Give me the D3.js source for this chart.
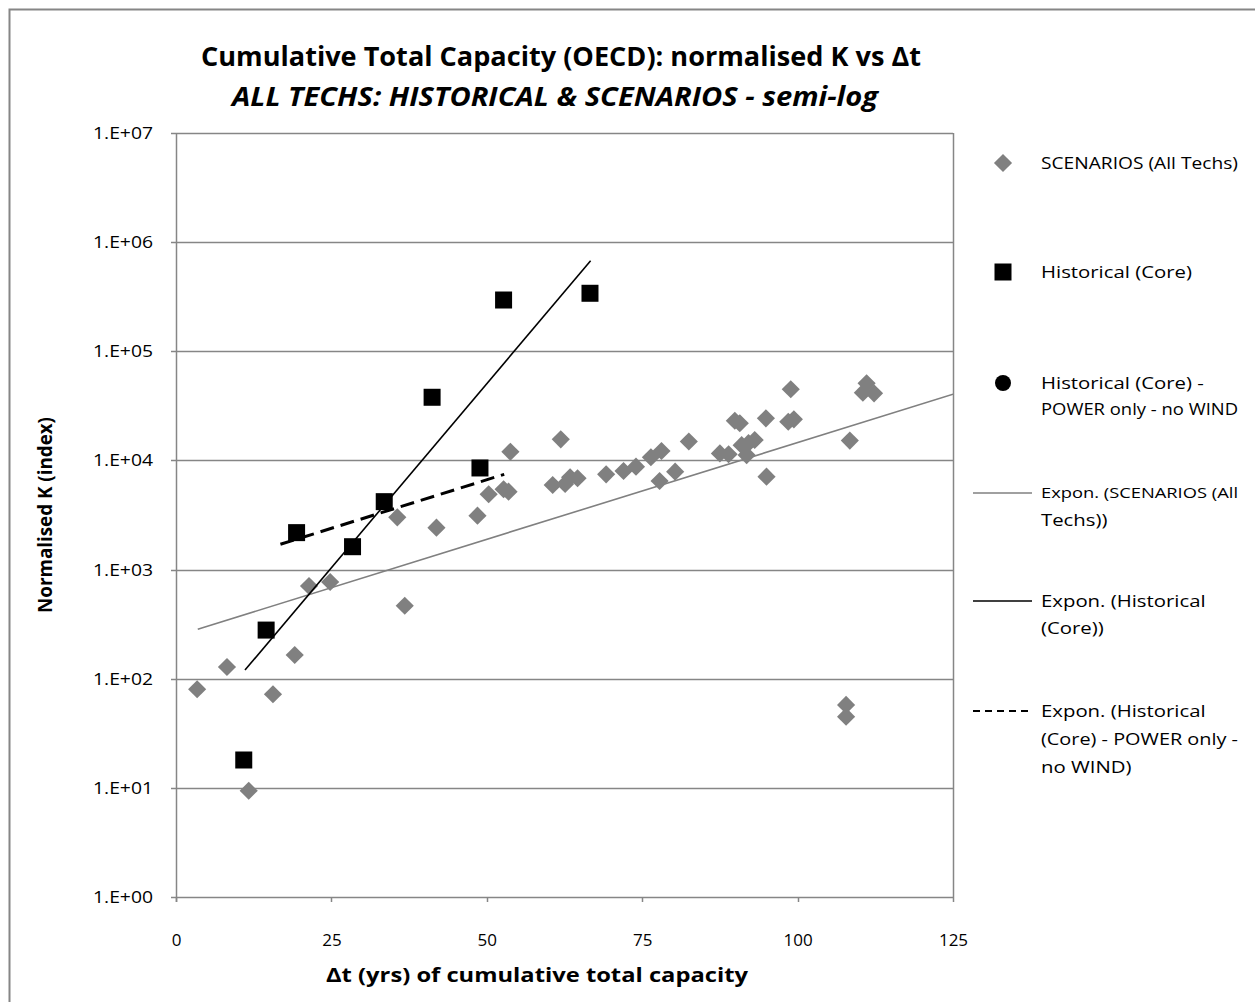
<!DOCTYPE html>
<html><head><meta charset="utf-8">
<script src="https://cdn.jsdelivr.net/npm/d3@7"></script>
<style>
html,body{margin:0;padding:0;background:#fff;}
svg{display:block;}
text{font-family:"Open Sans",Lato,sans-serif;}
</style></head>
<body>
<svg id="chart" width="1255" height="1002"></svg>
<script>
// ---------- data ----------
const scenX = [3.4, 8.2, 11.7, 15.6, 19.1, 21.4, 24.8, 35.6, 36.8, 41.9, 48.5, 50.3, 52.7, 53.5, 53.8, 60.6, 61.9, 62.6, 63.4, 64.6, 69.2, 72.0, 74.0, 76.4, 77.8, 78.1, 80.3, 82.5, 87.5, 88.9, 89.9, 90.7, 91.0, 91.8, 92.1, 93.1, 94.9, 95.0, 98.5, 99.4, 98.9, 107.8, 107.8, 108.4, 110.5, 111.1, 112.3];
const scenY = [80, 128, 9.4, 72, 165, 707, 770, 3010, 466, 2420, 3120, 4900, 5440, 5170, 12000, 5960, 15600, 6080, 7010, 6860, 7460, 8000, 8770, 10700, 6480, 12200, 7890, 14900, 11600, 11400, 23100, 21900, 13800, 11200, 14400, 15400, 24300, 7100, 22600, 23800, 44900, 57.5, 44.9, 15200, 41800, 50900, 41200];
const histX = [10.9, 14.5, 19.4, 28.4, 33.5, 41.2, 48.9, 52.7, 66.6];
const histY = [18, 279, 2180, 1620, 4190, 37900, 8530, 295000, 340000];
const powerX = [19.4, 33.5, 48.9];
const powerY = [2180, 4190, 8530];
// trend line end points [x0, y0, x1, y1]
const trendScen = [3.5, 284, 125, 40400];
const trendHist = [11.1, 120, 66.7, 676000];
const trendPower = [16.8, 1706, 52.8, 7460];
const yTicks = [1, 10, 100, 1000, 1e4, 1e5, 1e6, 1e7];
const xTicks = [0, 25, 50, 75, 100, 125];
const title1 = "Cumulative Total Capacity (OECD): normalised K  vs  \u0394t";
const title2 = "ALL TECHS: HISTORICAL & SCENARIOS - semi-log";
const xTitle = "\u0394t (yrs) of cumulative total capacity";
const yTitle = "Normalised K (index)";
const legendLabels = [
  ["SCENARIOS (All Techs)"],
  ["Historical (Core)"],
  ["Historical (Core) -", "POWER only - no WIND"],
  ["Expon. (SCENARIOS (All", "Techs))"],
  ["Expon. (Historical", "(Core))"],
  ["Expon. (Historical", "(Core) - POWER only -", "no WIND)"]
];

// ---------- drawing ----------
const svg = d3.select("#chart");
const L = 176, R = 953, T = 133, B = 897;
const x = d3.scaleLinear().domain([0, 125]).range([L, R]);
const y = d3.scaleLog().domain([1, 1e7]).range([B, T]);
const grid = "#868686";

// outer border
svg.append("rect").attr("x", 9.5).attr("y", 9.5).attr("width", 1260).attr("height", 1010)
  .attr("fill", "none").attr("stroke", grid).attr("stroke-width", 2);

// titles
svg.append("text").attr("x", 561).attr("y", 66).attr("text-anchor", "middle")
  .attr("font-size", 26).attr("font-weight", "bold").attr("textLength", 720).attr("lengthAdjust", "spacingAndGlyphs")
  .text(title1);
svg.append("text").attr("x", 555).attr("y", 106).attr("text-anchor", "middle")
  .attr("font-size", 26).attr("font-weight", "bold").attr("font-style", "italic")
  .attr("textLength", 646).attr("lengthAdjust", "spacingAndGlyphs")
  .text(title2);

// clip
svg.append("clipPath").attr("id", "plotclip").append("rect")
  .attr("x", L).attr("y", T).attr("width", R - L).attr("height", B - T);

// gridlines and frame
const gG = svg.append("g");
gG.selectAll("line.h").data(yTicks).join("line")
  .attr("x1", L - 5).attr("x2", R).attr("y1", d => Math.round(y(d)) + 0.5).attr("y2", d => Math.round(y(d)) + 0.5)
  .attr("stroke", grid).attr("stroke-width", 1.5);
gG.append("line").attr("x1", L + 0.5).attr("x2", L + 0.5).attr("y1", T).attr("y2", B + 5)
  .attr("stroke", grid).attr("stroke-width", 1.5);
gG.append("line").attr("x1", R + 0.5).attr("x2", R + 0.5).attr("y1", T).attr("y2", B)
  .attr("stroke", grid).attr("stroke-width", 1.5);
gG.selectAll("line.xt").data(xTicks).join("line")
  .attr("x1", d => Math.round(x(d)) + 0.5).attr("x2", d => Math.round(x(d)) + 0.5)
  .attr("y1", B).attr("y2", B + 5).attr("stroke", grid).attr("stroke-width", 1.5);

// axes labels via d3 axes (labels only)
const yAxis = d3.axisLeft(y).tickValues(yTicks).tickSize(0).tickPadding(0)
  .tickFormat(d => "1.E+" + String(Math.round(Math.log10(d))).padStart(2, "0"));
const ya = svg.append("g").attr("transform", `translate(${L - 23},0)`).call(yAxis);
ya.select(".domain").remove();
ya.selectAll("text").attr("font-family", "'Open Sans', sans-serif").attr("font-size", 17).attr("fill", "#000")
  .attr("textLength", 60).attr("lengthAdjust", "spacingAndGlyphs");

const xAxis = d3.axisBottom(x).tickValues(xTicks).tickSize(0).tickPadding(0).tickFormat(d3.format("d"));
const xa = svg.append("g").attr("transform", `translate(0,${B + 49})`).call(xAxis);
xa.select(".domain").remove();
xa.selectAll("text").attr("font-family", "'Open Sans', sans-serif").attr("font-size", 17).attr("fill", "#000").attr("dy", 0);

// axis titles
svg.append("text").attr("x", 537).attr("y", 982).attr("text-anchor", "middle")
  .attr("font-size", 19).attr("font-weight", "bold").attr("textLength", 422).attr("lengthAdjust", "spacingAndGlyphs")
  .text(xTitle);
svg.append("text").attr("transform", "translate(52,515) rotate(-90)").attr("text-anchor", "middle")
  .attr("font-size", 19).attr("font-weight", "bold").attr("textLength", 196).attr("lengthAdjust", "spacingAndGlyphs")
  .text(yTitle);

// plot content
const plot = svg.append("g").attr("clip-path", "url(#plotclip)");
const diamond = d3.symbol().type(d3.symbolSquare).size(165);

const scen = d3.zip(scenX, scenY);
plot.selectAll("path.scen").data(scen).join("path")
  .attr("d", diamond).attr("fill", "#808080")
  .attr("transform", d => `translate(${x(d[0])},${y(d[1])}) rotate(45)`);

function trend(t, color, width, dash) {
  plot.append("line")
    .attr("x1", x(t[0])).attr("y1", y(t[1])).attr("x2", x(t[2])).attr("y2", y(t[3]))
    .attr("stroke", color).attr("stroke-width", width).attr("stroke-dasharray", dash || null);
}
trend(trendScen, "#808080", 1.6);

const power = d3.zip(powerX, powerY);
plot.selectAll("circle.pw").data(power).join("circle")
  .attr("cx", d => x(d[0])).attr("cy", d => y(d[1])).attr("r", 6).attr("fill", "#000");

const hist = d3.zip(histX, histY);
plot.selectAll("rect.hist").data(hist).join("rect")
  .attr("x", d => x(d[0]) - 8.5).attr("y", d => y(d[1]) - 8.5).attr("width", 17).attr("height", 17).attr("fill", "#000");

trend(trendHist, "#000", 1.6);
trend(trendPower, "#000", 3, "14,7");

// legend
const lx0 = 973, lx1 = 1032, lmid = 1003, ltx = 1041;
const rowY = [[163], [272], [383, 410], [493, 520], [601, 628], [711, 739, 767]];
const lg = svg.append("g");
const lt = lg.append("g");
legendLabels.forEach((lines, i) => {
  lines.forEach((s, j) => {
    lt.append("text").attr("x", ltx).attr("y", rowY[i][j]).attr("dy", "0.35em")
      .attr("font-size", 17).attr("fill", "#000").text(s);
  });
});
// widen legend text so "Historical (Core)" spans ~151px as in the reference, keeping long lines inside the picture
const refLen = lt.selectAll("text").filter((d, i, n) => n[i].textContent === "Historical (Core)").node().getComputedTextLength();
const sx = 151 / refLen;
const maxW = 1238 - ltx;
lt.selectAll("text").each(function () {
  const nat = this.getComputedTextLength();
  let target = nat * sx;
  const sel = d3.select(this);
  if (target > maxW) {
    sel.attr("font-size", 17 * Math.max(0.85, maxW / target));
    target = maxW;
  }
  sel.attr("textLength", target).attr("lengthAdjust", "spacingAndGlyphs");
});

const ly = i => rowY[i][0];
lg.append("path").attr("d", diamond).attr("fill", "#808080").attr("transform", `translate(${lmid},${ly(0)}) rotate(45)`);
lg.append("rect").attr("x", lmid - 8.5).attr("y", ly(1) - 8.5).attr("width", 17).attr("height", 17).attr("fill", "#000");
lg.append("circle").attr("cx", lmid).attr("cy", ly(2)).attr("r", 8).attr("fill", "#000");
lg.append("line").attr("x1", lx0).attr("x2", lx1).attr("y1", ly(3)).attr("y2", ly(3)).attr("stroke", "#808080").attr("stroke-width", 1.6);
lg.append("line").attr("x1", lx0).attr("x2", lx1).attr("y1", ly(4)).attr("y2", ly(4)).attr("stroke", "#000").attr("stroke-width", 1.6);
lg.append("line").attr("x1", lx0).attr("x2", lx1).attr("y1", ly(5)).attr("y2", ly(5)).attr("stroke", "#000").attr("stroke-width", 2).attr("stroke-dasharray", "7,5");
</script>
</body></html>
